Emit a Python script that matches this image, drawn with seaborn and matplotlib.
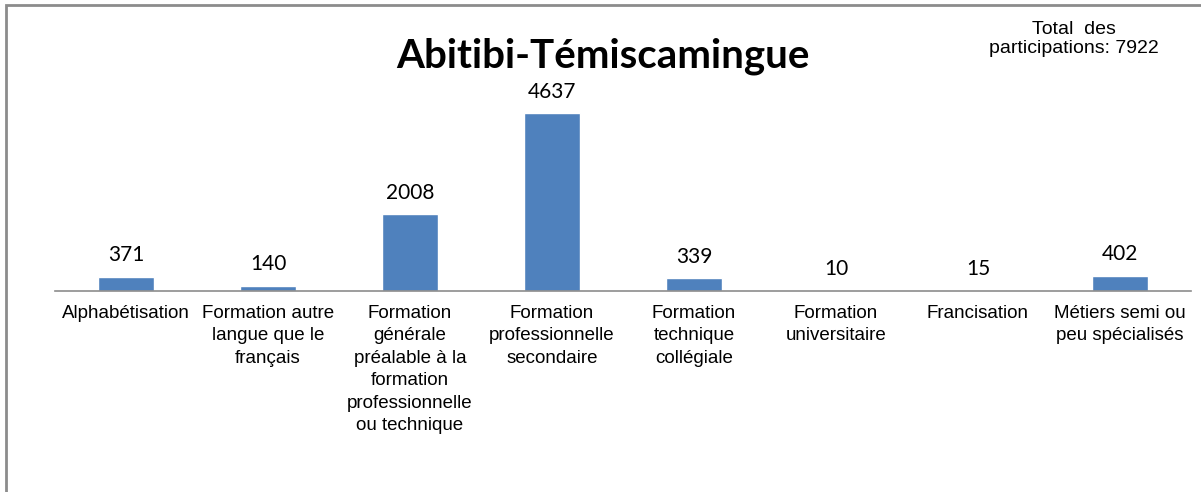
import matplotlib
matplotlib.use("Agg")
import matplotlib.pyplot as plt
import seaborn as sns
import pandas as pd
from matplotlib.patches import Rectangle

# -------------------------------------------------------
# Data
# -------------------------------------------------------
categories = [
    "Alphabétisation",
    "Formation autre\nlangue que le\nfrançais",
    "Formation\ngénérale\npréalable à la\nformation\nprofessionnelle\nou technique",
    "Formation\nprofessionnelle\nsecondaire",
    "Formation\ntechnique\ncollégiale",
    "Formation\nuniversitaire",
    "Francisation",
    "Métiers semi ou\npeu spécialisés",
]
participations = [371, 140, 2008, 4637, 339, 10, 15, 402]
total = 7922
title = "Abitibi-Témiscamingue"

df = pd.DataFrame({"cat": categories, "val": participations})

# -------------------------------------------------------
# Plot
# -------------------------------------------------------
sns.set_style("white")
W, H = 1201, 492
fig = plt.figure(figsize=(W / 100, H / 100), dpi=100)

# chart border (runs off the right / bottom edge like the source)
fig.patches.append(Rectangle((6 / W, -0.05), 1.1, 1 - 5 / H + 0.05,
                             transform=fig.transFigure, fill=False,
                             edgecolor="#8c8c8c", linewidth=2))

ax = fig.add_axes([55 / W, 201 / H, 1136 / W, 192 / H])
sns.barplot(data=df, x="cat", y="val", color="#4F81BD", width=0.4,
            saturation=1, ax=ax)
ax.set_ylim(0, 5000)
ax.set_xlim(-0.5, len(categories) - 0.5)

for i, v in enumerate(participations):
    ax.annotate(str(v), (i, v), xytext=(0, 11), textcoords="offset points",
                ha="center", va="baseline", fontsize=15, family="Lato",
                color="black")

for s in ["top", "right", "left"]:
    ax.spines[s].set_visible(False)
ax.spines["bottom"].set_color("#8c8c8c")
ax.spines["bottom"].set_linewidth(1.2)
ax.set_yticks([])
ax.set_xlabel("")
ax.set_ylabel("")
ax.tick_params(axis="x", length=0, pad=10)
ax.set_xticks(range(len(categories)))
ax.set_xticklabels(categories, fontsize=13.5, family="Liberation Sans",
                   linespacing=1.42, va="top", color="black")

fig.text(603 / W, 1 - 56 / H, title, ha="center", va="center",
         fontsize=29, fontweight="bold", family="Lato", color="black")
fig.text(1074 / W, 1 - 39 / H, "Total  des\nparticipations: " + str(total),
         ha="center", va="center", fontsize=14, family="Liberation Sans",
         linespacing=1.2, color="black")

fig.savefig("out.png", dpi=100)
